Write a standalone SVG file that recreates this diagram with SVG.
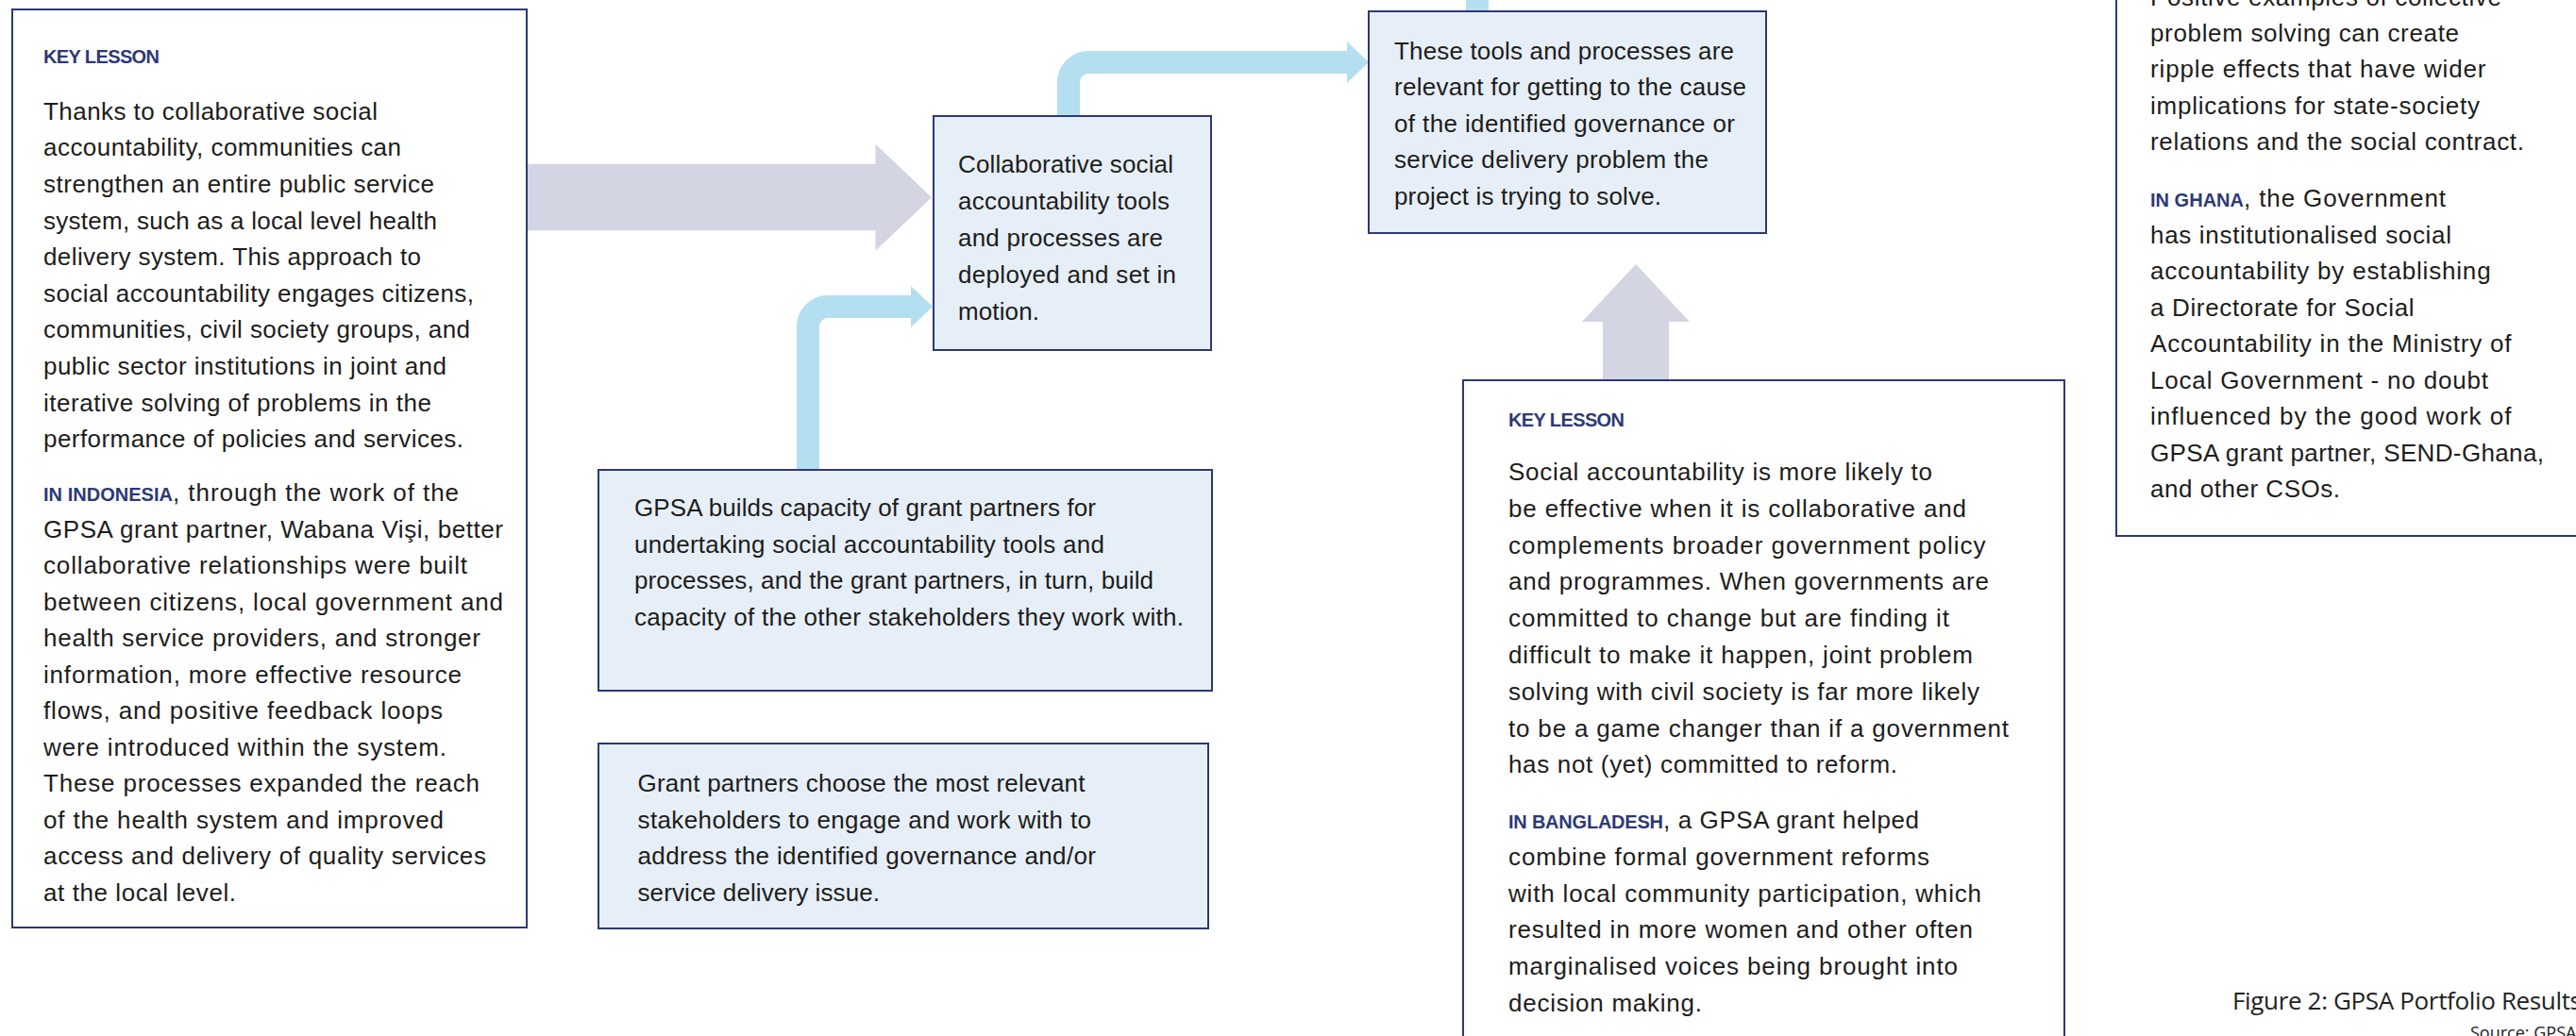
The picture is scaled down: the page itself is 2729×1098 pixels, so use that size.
<svg xmlns="http://www.w3.org/2000/svg" width="2729" height="1098" viewBox="0 0 2729 1098">
<style>
.bx{stroke:#2d3877;stroke-width:2}
.lb{fill:#e6eef7}
.wh{fill:#ffffff}
.t{font-family:'Liberation Sans',Arial,sans-serif;font-size:26px;fill:#1d1d1b}
.h{font-family:'Liberation Sans',Arial,sans-serif;font-size:20px;font-weight:bold;fill:#2d3877}
.ga{fill:#d3d5e3}
.bl{fill:none;stroke:#b4dff0;stroke-width:24}
.bh{fill:#b4dff0}
.cap{font-family:'Open Sans',sans-serif;fill:#222222}
</style>
<rect width="2729" height="1098" fill="#ffffff"/>
<g id="connectors">
  <polygon class="ga" points="558,174 927.5,174 927.5,152.7 987,209.3 927.5,265.7 927.5,244.3 558,244.3"/>
  <polygon class="ga" points="1698,404 1698,341 1676,341 1733,280 1790,341 1768,341 1768,404"/>
  <path class="bl" d="M1132 123 V87 A21 21 0 0 1 1153 66 H1428"/>
  <polygon class="bh" points="1427,44 1450,66 1427,88"/>
  <path class="bl" d="M856 498 V346 A21 21 0 0 1 877 325 H966"/>
  <polygon class="bh" points="965,303 988,325 965,347"/>
  <rect class="bh" x="1553" y="0" width="24" height="13"/>
</g>
<g id="key-lesson-left">
  <rect class="bx wh" x="13" y="10" width="545" height="973"/>
  <text class="h" x="46" y="67" textLength="123">KEY LESSON</text>
  <text class="t" x="46" y="126.7" textLength="354">Thanks to collaborative social</text>
  <text class="t" x="46" y="165.3" textLength="379">accountability, communities can</text>
  <text class="t" x="46" y="203.9" textLength="414">strengthen an entire public service</text>
  <text class="t" x="46" y="242.5" textLength="417">system, such as a local level health</text>
  <text class="t" x="46" y="281.1" textLength="400">delivery system. This approach to</text>
  <text class="t" x="46" y="319.7" textLength="456">social accountability engages citizens,</text>
  <text class="t" x="46" y="358.3" textLength="452">communities, civil society groups, and</text>
  <text class="t" x="46" y="396.9" textLength="427">public sector institutions in joint and</text>
  <text class="t" x="46" y="435.5" textLength="411">iterative solving of problems in the</text>
  <text class="t" x="46" y="474.1" textLength="445">performance of policies and services.</text>
  <text class="h" x="46" y="531" textLength="137">IN INDONESIA</text>
  <text class="t" x="183" y="531" textLength="303">, through the work of the</text>
  <text class="t" x="46" y="569.5" textLength="487">GPSA grant partner, Wabana Vişi, better</text>
  <text class="t" x="46" y="608" textLength="449">collaborative relationships were built</text>
  <text class="t" x="46" y="646.5" textLength="487">between citizens, local government and</text>
  <text class="t" x="46" y="685" textLength="463">health service providers, and stronger</text>
  <text class="t" x="46" y="723.5" textLength="443">information, more effective resource</text>
  <text class="t" x="46" y="762" textLength="423">flows, and positive feedback loops</text>
  <text class="t" x="46" y="800.5" textLength="427">were introduced within the system.</text>
  <text class="t" x="46" y="839" textLength="462">These processes expanded the reach</text>
  <text class="t" x="46" y="877.5" textLength="424">of the health system and improved</text>
  <text class="t" x="46" y="916" textLength="469">access and delivery of quality services</text>
  <text class="t" x="46" y="954.5" textLength="204">at the local level.</text>
</g>
<g id="collaborative-tools">
  <rect class="bx lb" x="989" y="123" width="294" height="248"/>
  <text class="t" x="1015" y="182.7" textLength="228">Collaborative social</text>
  <text class="t" x="1015" y="221.7" textLength="224">accountability tools</text>
  <text class="t" x="1015" y="260.7" textLength="217">and processes are</text>
  <text class="t" x="1015" y="299.7" textLength="231">deployed and set in</text>
  <text class="t" x="1015" y="338.7" textLength="86">motion.</text>
</g>
<g id="tools-relevant">
  <rect class="bx lb" x="1450" y="12" width="421" height="235"/>
  <text class="t" x="1477" y="62.5" textLength="360">These tools and processes are</text>
  <text class="t" x="1477" y="101.1" textLength="373">relevant for getting to the cause</text>
  <text class="t" x="1477" y="139.7" textLength="361">of the identified governance or</text>
  <text class="t" x="1477" y="178.3" textLength="333">service delivery problem the</text>
  <text class="t" x="1477" y="216.9" textLength="283">project is trying to solve.</text>
</g>
<g id="gpsa-capacity">
  <rect class="bx lb" x="634" y="498" width="650" height="234"/>
  <text class="t" x="672" y="547" textLength="489">GPSA builds capacity of grant partners for</text>
  <text class="t" x="672" y="585.7" textLength="498">undertaking social accountability tools and</text>
  <text class="t" x="672" y="624.4" textLength="550">processes, and the grant partners, in turn, build</text>
  <text class="t" x="672" y="663.1" textLength="582">capacity of the other stakeholders they work with.</text>
</g>
<g id="grant-partners">
  <rect class="bx lb" x="634" y="788" width="646" height="196"/>
  <text class="t" x="675.5" y="839" textLength="474">Grant partners choose the most relevant</text>
  <text class="t" x="675.5" y="877.5" textLength="480.5">stakeholders to engage and work with to</text>
  <text class="t" x="675.5" y="916" textLength="485.5">address the identified governance and/or</text>
  <text class="t" x="675.5" y="954.5" textLength="256.5">service delivery issue.</text>
</g>
<g id="key-lesson-middle">
  <rect class="bx wh" x="1550" y="403" width="637" height="720"/>
  <text class="h" x="1598" y="452" textLength="123">KEY LESSON</text>
  <text class="t" x="1598" y="509" textLength="449">Social accountability is more likely to</text>
  <text class="t" x="1598" y="547.8" textLength="485">be effective when it is collaborative and</text>
  <text class="t" x="1598" y="586.6" textLength="505.5">complements broader government policy</text>
  <text class="t" x="1598" y="625.4" textLength="509">and programmes. When governments are</text>
  <text class="t" x="1598" y="664.2" textLength="467">committed to change but are finding it</text>
  <text class="t" x="1598" y="703" textLength="492">difficult to make it happen, joint problem</text>
  <text class="t" x="1598" y="741.8" textLength="499">solving with civil society is far more likely</text>
  <text class="t" x="1598" y="780.6" textLength="530">to be a game changer than if a government</text>
  <text class="t" x="1598" y="819.4" textLength="412">has not (yet) committed to reform.</text>
  <text class="h" x="1598" y="878" textLength="164">IN BANGLADESH</text>
  <text class="t" x="1762" y="878" textLength="271">, a GPSA grant helped</text>
  <text class="t" x="1598" y="916.8" textLength="446">combine formal government reforms</text>
  <text class="t" x="1598" y="955.6" textLength="501">with local community participation, which</text>
  <text class="t" x="1598" y="994.4" textLength="492">resulted in more women and other often</text>
  <text class="t" x="1598" y="1033.2" textLength="476">marginalised voices being brought into</text>
  <text class="t" x="1598" y="1072" textLength="205">decision making.</text>
</g>
<g id="key-lesson-right">
  <rect class="bx wh" x="2242" y="-20" width="520" height="588"/>
  <text class="t" x="2278" y="5.6" textLength="372">Positive examples of collective</text>
  <text class="t" x="2278" y="44" textLength="327">problem solving can create</text>
  <text class="t" x="2278" y="82.4" textLength="355.5">ripple effects that have wider</text>
  <text class="t" x="2278" y="120.8" textLength="349">implications for state-society</text>
  <text class="t" x="2278" y="159.2" textLength="396">relations and the social contract.</text>
  <text class="h" x="2278" y="219" textLength="99">IN GHANA</text>
  <text class="t" x="2377" y="219" textLength="214">, the Government</text>
  <text class="t" x="2278" y="257.5" textLength="319">has institutionalised social</text>
  <text class="t" x="2278" y="296" textLength="360.6">accountability by establishing</text>
  <text class="t" x="2278" y="334.5" textLength="279.6">a Directorate for Social</text>
  <text class="t" x="2278" y="373" textLength="382.5">Accountability in the Ministry of</text>
  <text class="t" x="2278" y="411.5" textLength="358">Local Government - no doubt</text>
  <text class="t" x="2278" y="450" textLength="382.5">influenced by the good work of</text>
  <text class="t" x="2278" y="488.5" textLength="417">GPSA grant partner, SEND-Ghana,</text>
  <text class="t" x="2278" y="527" textLength="201">and other CSOs.</text>
</g>
<g id="caption">
  <text class="cap" x="2365" y="1070" font-size="26" textLength="370">Figure 2: GPSA Portfolio Results</text>
  <text class="cap" x="2617" y="1101" font-size="18">Source: GPSA</text>
</g>
</svg>
